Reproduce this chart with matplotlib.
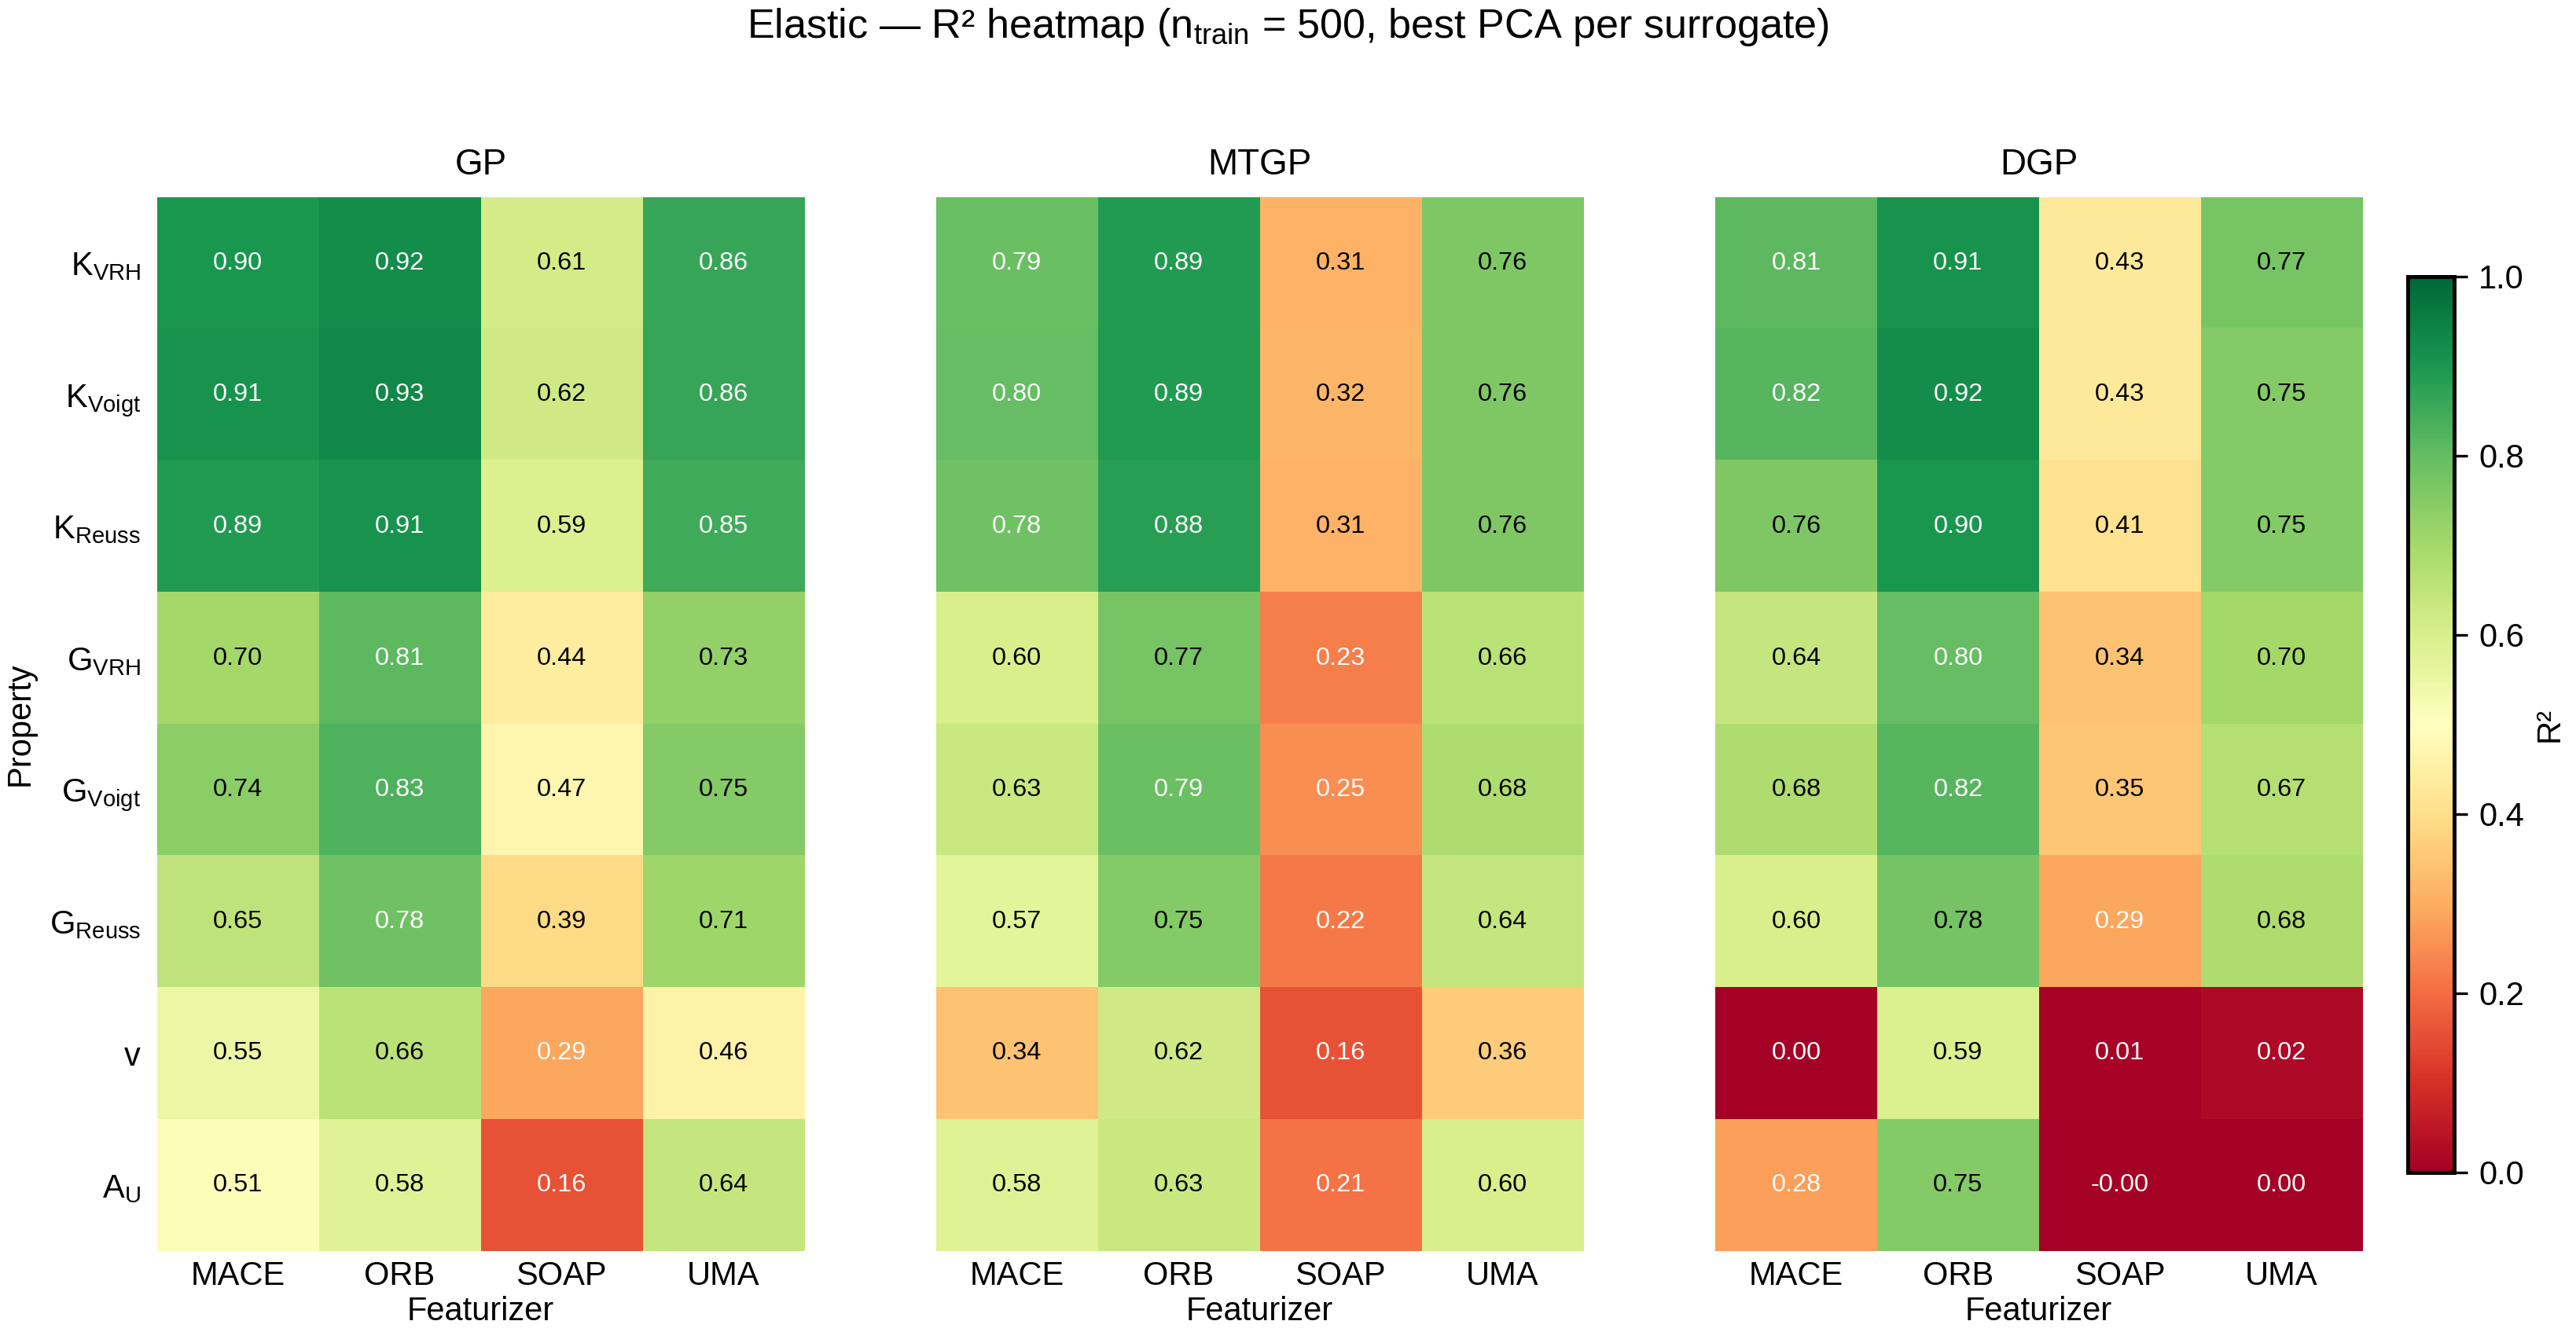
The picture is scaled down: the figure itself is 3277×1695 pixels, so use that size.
import numpy as np
import matplotlib
matplotlib.use("Agg")
import matplotlib.pyplot as plt

plt.rcParams["font.family"] = ["Liberation Sans", "DejaVu Sans"]
plt.rcParams["mathtext.fontset"] = "custom"
plt.rcParams["mathtext.rm"] = "Liberation Sans"
plt.rcParams["mathtext.it"] = "Liberation Sans:italic"

# -----------------------
# Data
# -----------------------
featurizers = ["MACE", "ORB", "SOAP", "UMA"]
properties = [r"K$_{\mathrm{VRH}}$", r"K$_{\mathrm{Voigt}}$", r"K$_{\mathrm{Reuss}}$",
              r"G$_{\mathrm{VRH}}$", r"G$_{\mathrm{Voigt}}$", r"G$_{\mathrm{Reuss}}$",
              "v", r"A$_{\mathrm{U}}$"]
surrogates = ["GP", "MTGP", "DGP"]

r2_gp = [
    [0.90, 0.92, 0.61, 0.86],
    [0.91, 0.93, 0.62, 0.86],
    [0.89, 0.91, 0.59, 0.85],
    [0.70, 0.81, 0.44, 0.73],
    [0.74, 0.83, 0.47, 0.75],
    [0.65, 0.784, 0.39, 0.71],
    [0.55, 0.66, 0.29, 0.46],
    [0.51, 0.58, 0.16, 0.64],
]
r2_mtgp = [
    [0.79, 0.89, 0.31, 0.76],
    [0.80, 0.89, 0.32, 0.76],
    [0.783, 0.88, 0.31, 0.76],
    [0.60, 0.77, 0.23, 0.66],
    [0.63, 0.79, 0.25, 0.68],
    [0.57, 0.75, 0.22, 0.64],
    [0.34, 0.62, 0.16, 0.36],
    [0.58, 0.63, 0.21, 0.60],
]
r2_dgp = [
    [0.81, 0.91, 0.43, 0.77],
    [0.82, 0.92, 0.43, 0.75],
    [0.76, 0.90, 0.41, 0.75],
    [0.64, 0.80, 0.34, 0.70],
    [0.68, 0.82, 0.35, 0.67],
    [0.60, 0.776, 0.29, 0.68],
    [0.00, 0.59, 0.01, 0.02],
    [0.28, 0.75, -0.001, 0.00],
]

fig = plt.figure(figsize=(3277 / 300, 1695 / 300), dpi=300)

lefts = [0.0610, 0.3634, 0.6659]
for left, name, vals in zip(lefts, surrogates, [r2_gp, r2_mtgp, r2_dgp]):
    ax = fig.add_axes([left, 0.0608, 0.2512, 0.7912])
    data = np.array(vals)
    im = ax.imshow(data, cmap="RdYlGn", vmin=0, vmax=1, aspect="auto",
                   interpolation="nearest")
    for i in range(data.shape[0]):
        for j in range(data.shape[1]):
            v = data[i, j]
            color = "white" if (v < 0.3 or v > 0.78) else "black"
            ax.text(j, i, f"{v:.2f}", ha="center", va="center",
                    fontsize=7.8, color=color)
    ax.set_xticks(range(len(featurizers)))
    ax.set_xticklabels(featurizers, fontsize=10)
    ax.set_yticks(range(len(properties)))
    if name == "GP":
        ax.set_yticklabels(properties, fontsize=10)
        ax.set_ylabel("Property", fontsize=10)
    else:
        ax.set_yticklabels([])
    ax.tick_params(axis="x", length=0, pad=3)
    ax.tick_params(axis="y", length=0, pad=5)
    ax.set_xlabel("Featurizer", fontsize=10, labelpad=1)
    ax.set_title(name, fontsize=11, pad=7)
    for s in ax.spines.values():
        s.set_visible(False)

cax = fig.add_axes([0.9347, 0.1198, 0.0180, 0.6726])
cb = fig.colorbar(im, cax=cax)
cb.set_ticks([0.0, 0.2, 0.4, 0.6, 0.8, 1.0])
cb.ax.tick_params(labelsize=10, length=4, width=0.8)
cb.outline.set_linewidth(1.2)
cb.set_label("R²", fontsize=10, labelpad=3)

fig.suptitle(r"Elastic — R² heatmap (n$_{\mathrm{train}}$ = 500, best PCA per surrogate)",
             fontsize=12.5, y=0.995, va="top")

fig.savefig("out.png", dpi=300)
